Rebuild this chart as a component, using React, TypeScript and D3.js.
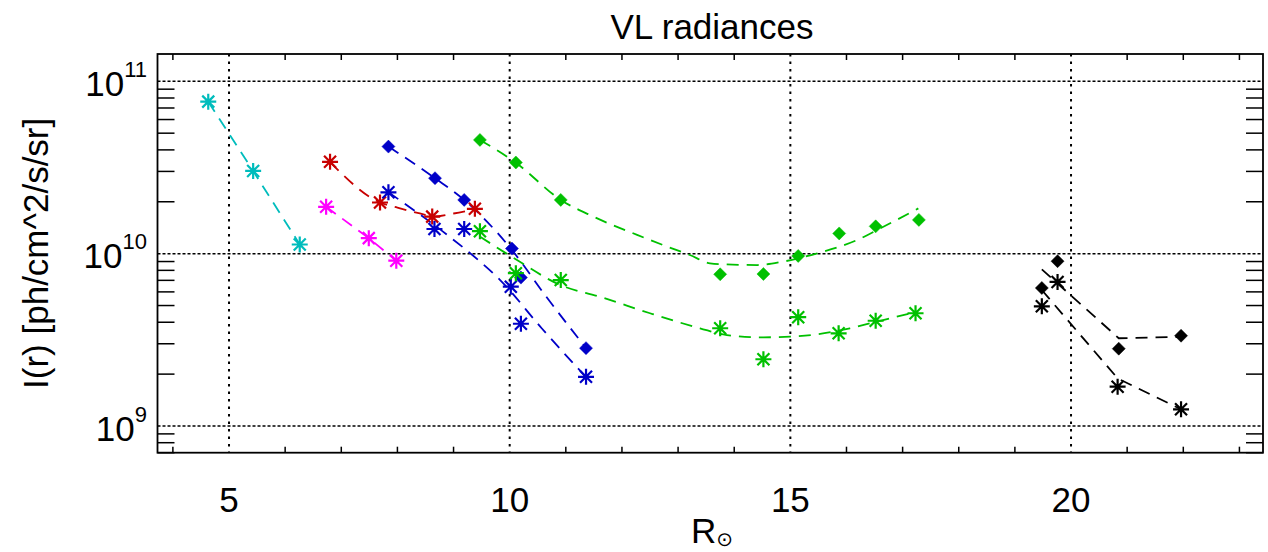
import React, { useEffect } from "react";
import * as d3 from "d3";

// ---- data ----
const cyanX = [4.63, 5.43, 6.26];
const cyanY = [7.62e10, 3.02e10, 1.13e10];

const magentaX = [6.73, 7.49, 7.98];
const magentaY = [1.87e10, 1.23e10, 9.1e9];

const redX = [6.8, 7.69, 8.62, 9.38];
const redY = [3.41e10, 1.98e10, 1.64e10, 1.82e10];
const redFitX = [6.8, 7.69, 8.0, 8.4, 8.64, 9.0, 9.38];
const redFitY = [3.4e10, 1.98e10, 1.85e10, 1.71e10, 1.64e10, 1.71e10, 1.81e10];

const blueDiamX = [7.84, 8.67, 9.19, 10.04, 10.2, 11.36];
const blueDiamY = [4.18e10, 2.74e10, 2.05e10, 1.07e10, 7.26e9, 2.83e9];
const blueDiamFitX = [7.84, 8.67, 9.19, 10.04, 10.63, 11.36];
const blueDiamFitY = [4.18e10, 2.74e10, 2.05e10, 1.05e10, 5.75e9, 2.83e9];

const blueStarX = [7.84, 8.66, 9.19, 10.02, 10.2, 11.36];
const blueStarY = [2.27e10, 1.39e10, 1.39e10, 6.43e9, 3.92e9, 1.93e9];
const blueStarFitX = [7.84, 8.88, 9.44, 9.83, 10.57, 11.36];
const blueStarFitY = [2.27e10, 1.29e10, 9.18e9, 7.03e9, 3.69e9, 1.92e9];

const greenDiamX = [9.47, 10.11, 10.91, 13.75, 14.52, 15.14, 15.87, 16.52, 17.29];
const greenDiamY = [4.57e10, 3.38e10, 2.05e10, 7.59e9, 7.62e9, 9.7e9, 1.31e10, 1.44e10, 1.57e10];
const greenDiamFitX = [9.47, 10.11, 10.91, 11.49, 12.27, 12.8, 13.21, 13.57, 13.8, 14.41, 14.87, 15.48, 16.19, 16.6, 17.28];
const greenDiamFitY = [4.57e10, 3.37e10, 2.05e10, 1.64e10, 1.285e10, 1.1e10, 9.82e9, 8.79e9, 8.67e9, 8.59e9, 8.99e9, 1.005e10, 1.2e10, 1.4e10, 1.83e10];

const greenStarX = [9.47, 10.11, 10.91, 13.75, 14.52, 15.14, 15.86, 16.52, 17.23];
const greenStarY = [1.35e10, 7.7e9, 7.03e9, 3.69e9, 2.44e9, 4.28e9, 3.45e9, 4.08e9, 4.51e9];
const greenStarFitX = [9.47, 10.13, 10.9, 11.61, 12.5, 13.39, 13.87, 14.52, 15.0, 15.47, 16.06, 16.6, 17.25];
const greenStarFitY = [1.256e10, 9.18e9, 6.58e9, 5.62e9, 4.51e9, 3.69e9, 3.37e9, 3.27e9, 3.3e9, 3.4e9, 3.69e9, 4.08e9, 4.6e9];

const blackDiamX = [19.48, 19.76, 20.85, 21.96];
const blackDiamY = [6.32e9, 9.04e9, 2.81e9, 3.34e9];
const blackDiamFitX = [19.48, 20.85, 21.96];
const blackDiamFitY = [8.1e9, 3.23e9, 3.29e9];

const blackStarX = [19.48, 19.76, 20.83, 21.96];
const blackStarY = [4.95e9, 6.85e9, 1.69e9, 1.25e9];
const blackStarFitX = [19.48, 20.83, 21.96];
const blackStarFitY = [6.15e9, 1.89e9, 1.25e9];

const xMajorTicks = [5, 10, 15, 20];
const xTickLabels = ["5", "10", "15", "20"];
const yMajorTicks = [1e9, 1e10, 1e11];
const yTickExps = ["9", "10", "11"];

const title = "VL radiances";
const yTitle = "I(r) [ph/cm^2/s/sr]";

// ---- layout ----
const W = 1268;
const H = 552;
const L = 157.5;
const R = 1263;
const T = 54;
const B = 452.7;

const FONT = "'Liberation Sans', Arial, Helvetica, sans-serif";

const x = d3.scaleLinear().domain([3.726, 23.42]).range([L, R]);
const y = d3.scaleLog().domain([7e8, 1.44e11]).range([B, T]);

type Series = {
  color: string;
  fx: number[];
  fy: number[];
  mx: number[];
  my: number[];
  marker: "star" | "diamond";
  curve: any;
};

const series: Series[] = [
  { color: "#00bcbc", fx: cyanX, fy: cyanY, mx: cyanX, my: cyanY, marker: "star", curve: d3.curveLinear },
  { color: "#ff00ff", fx: magentaX, fy: magentaY, mx: magentaX, my: magentaY, marker: "star", curve: d3.curveLinear },
  { color: "#c80000", fx: redFitX, fy: redFitY, mx: redX, my: redY, marker: "star", curve: d3.curveMonotoneX },
  { color: "#0000c8", fx: blueDiamFitX, fy: blueDiamFitY, mx: blueDiamX, my: blueDiamY, marker: "diamond", curve: d3.curveMonotoneX },
  { color: "#0000c8", fx: blueStarFitX, fy: blueStarFitY, mx: blueStarX, my: blueStarY, marker: "star", curve: d3.curveMonotoneX },
  { color: "#00c000", fx: greenDiamFitX, fy: greenDiamFitY, mx: greenDiamX, my: greenDiamY, marker: "diamond", curve: d3.curveMonotoneX },
  { color: "#00c000", fx: greenStarFitX, fy: greenStarFitY, mx: greenStarX, my: greenStarY, marker: "star", curve: d3.curveMonotoneX },
  { color: "#000000", fx: blackDiamFitX, fy: blackDiamFitY, mx: blackDiamX, my: blackDiamY, marker: "diamond", curve: d3.curveLinear },
  { color: "#000000", fx: blackStarFitX, fy: blackStarFitY, mx: blackStarX, my: blackStarY, marker: "star", curve: d3.curveLinear },
];

const STAR = "M0,-8V8M-8,0H8M-6,-6L6,6M-6,6L6,-6";
const DIAMOND = "M0,-6.5L6.5,0L0,6.5L-6.5,0Z";

export default function App() {
  useEffect(() => {
    document.body.style.margin = "0";
  }, []);

  const xMinor = d3.range(4, 24).filter((v) => v % 5 !== 0);
  const yMinor: number[] = [];
  [8, 9, 10].forEach((e) => {
    for (let m = 2; m <= 9; m++) {
      const v = m * Math.pow(10, e);
      if (v >= 7e8 && v <= 1.44e11) yMinor.push(v);
    }
  });

  return (
    <svg width={W} height={H} style={{ position: "absolute", left: 0, top: 0, background: "#fff" }}>
      <rect x={0} y={0} width={W} height={H} fill="#fff" />
      {/* grid */}
      {xMajorTicks.map((v) => (
        <line key={"gx" + v} x1={x(v)} x2={x(v)} y1={T} y2={B} stroke="#000" strokeWidth={2} strokeDasharray="2.5,5" />
      ))}
      {yMajorTicks.map((v) => (
        <line key={"gy" + v} x1={L} x2={R} y1={y(v)} y2={y(v)} stroke="#000" strokeWidth={1.5} strokeDasharray="3,2" />
      ))}

      {/* series lines */}
      {series.map((s, i) => {
        const pts = s.fx.map((v, j) => [x(v), y(s.fy[j])] as [number, number]);
        const path = d3.line().curve(s.curve)(pts) || "";
        return <path key={"l" + i} d={path} fill="none" stroke={s.color} strokeWidth={1.8} strokeDasharray="12,8" />;
      })}

      {/* markers */}
      {series.map((s, i) =>
        s.mx.map((v, j) => (
          <path
            key={"m" + i + "_" + j}
            d={s.marker === "star" ? STAR : DIAMOND}
            transform={`translate(${x(v)},${y(s.my[j])})`}
            fill={s.marker === "star" ? "none" : s.color}
            stroke={s.color}
            strokeWidth={s.marker === "star" ? 2.2 : 0.5}
          />
        ))
      )}

      {/* frame */}
      <rect x={L} y={T} width={R - L} height={B - T} fill="none" stroke="#000" strokeWidth={1.8} />

      {/* x minor ticks */}
      {xMinor.map((v) => (
        <g key={"xt" + v}>
          <line x1={x(v)} x2={x(v)} y1={B} y2={B - 6} stroke="#000" strokeWidth={1.5} />
          <line x1={x(v)} x2={x(v)} y1={T} y2={T + 6} stroke="#000" strokeWidth={1.5} />
        </g>
      ))}
      {/* y minor ticks */}
      {yMinor.map((v, i) => (
        <g key={"yt" + i}>
          <line x1={L} x2={L + 17} y1={y(v)} y2={y(v)} stroke="#000" strokeWidth={1.5} />
          <line x1={R} x2={R - 17} y1={y(v)} y2={y(v)} stroke="#000" strokeWidth={1.5} />
        </g>
      ))}

      {/* x tick labels */}
      {xMajorTicks.map((v, i) => (
        <text key={"xl" + v} x={x(v)} y={512} textAnchor="middle" fontFamily={FONT} fontSize={35} fill="#000">
          {xTickLabels[i]}
        </text>
      ))}
      {/* y tick labels */}
      {yMajorTicks.map((v, i) => (
        <text key={"yl" + v} x={147} y={y(v) + 14.5} textAnchor="end" fontFamily={FONT} fontSize={35} fill="#000">
          <tspan>10</tspan>
          <tspan fontSize={22} dy={-19}>
            {yTickExps[i]}
          </tspan>
        </text>
      ))}

      {/* titles */}
      <text x={712} y={39} textAnchor="middle" fontFamily={FONT} fontSize={35} fill="#000">
        {title}
      </text>
      <text
        transform={`translate(48,${(T + B) / 2}) rotate(-90)`}
        textAnchor="middle"
        fontFamily={FONT}
        fontSize={35}
        fill="#000"
      >
        {yTitle}
      </text>
      <text x={712} y={543} textAnchor="middle" fontFamily={FONT} fontSize={35} fill="#000">
        <tspan>R</tspan>
        <tspan fontSize={20} dy={3} fontFamily="'DejaVu Sans', sans-serif">
          ⊙
        </tspan>
      </text>
    </svg>
  );
}
